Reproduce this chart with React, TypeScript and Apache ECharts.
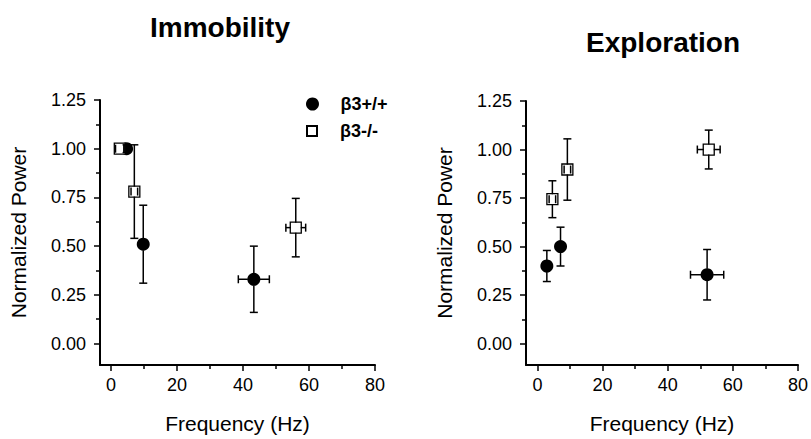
import React, { useEffect, useRef } from "react";
import * as echarts from "echarts";

// ---- data ----
const immobWTX = [4.75, 9.8, 43.3];
const immobWTY = [1.0, 0.51, 0.33];
const immobWTXErr = [0.8, 0, 4.7];
const immobWTYErr = [0.02, 0.2, 0.17];

const immobKOX = [2.7, 7.1, 56.0];
const immobKOY = [1.0, 0.78, 0.595];
const immobKOXErr = [1.3, 1.0, 3.0];
const immobKOYErr = [0, 0.24, 0.15];

const exploWTX = [2.9, 7.1, 52.1];
const exploWTY = [0.4, 0.5, 0.355];
const exploWTXErr = [0, 0, 5.1];
const exploWTYErr = [0.08, 0.1, 0.13];

const exploKOX = [4.6, 9.2, 52.6];
const exploKOY = [0.744, 0.897, 1.0];
const exploKOXErr = [1.0, 1.0, 3.5];
const exploKOYErr = [0.095, 0.158, 0.1];

const xMajorTicks = [0, 20, 40, 60, 80];
const xMinorTicks = [10, 30, 50, 70];
const yMajorTicks = [0, 0.25, 0.5, 0.75, 1.0, 1.25];
const yMinorTicks = [0.125, 0.375, 0.625, 0.875, 1.125];

const titles = ["Immobility", "Exploration"];
const seriesNames = ["β3+/+", "β3-/-"];

const FONT = "Liberation Sans";

function rows(x: number[], y: number[], xe: number[], ye: number[]) {
  return x.map((v, i) => [v, y[i], xe[i], ye[i]]);
}

function makeErrorRender(half: number) {
  return (params: any, api: any) => {
    const x = api.value(0);
    const y = api.value(1);
    const ex = api.value(2);
    const ey = api.value(3);
    const c = api.coord([x, y]);
    const children: any[] = [];
    const style = { stroke: "#000", lineWidth: 1.5 };
    const cap = 4;
    if (ey > 0) {
      const t = api.coord([x, y + ey]);
      const b = api.coord([x, y - ey]);
      if (t[1] < c[1] - half)
        children.push({ type: "line", shape: { x1: c[0], y1: t[1], x2: c[0], y2: c[1] - half }, style });
      if (b[1] > c[1] + half)
        children.push({ type: "line", shape: { x1: c[0], y1: c[1] + half, x2: c[0], y2: b[1] }, style });
      children.push({ type: "line", shape: { x1: c[0] - cap, y1: t[1], x2: c[0] + cap, y2: t[1] }, style });
      children.push({ type: "line", shape: { x1: c[0] - cap, y1: b[1], x2: c[0] + cap, y2: b[1] }, style });
    }
    if (ex > 0) {
      const l = api.coord([x - ex, y]);
      const r = api.coord([x + ex, y]);
      if (l[0] < c[0] - half)
        children.push({ type: "line", shape: { x1: l[0], y1: c[1], x2: c[0] - half, y2: c[1] }, style });
      if (r[0] > c[0] + half)
        children.push({ type: "line", shape: { x1: c[0] + half, y1: c[1], x2: r[0], y2: c[1] }, style });
      children.push({ type: "line", shape: { x1: l[0], y1: c[1] - cap, x2: l[0], y2: c[1] + cap }, style });
      children.push({ type: "line", shape: { x1: r[0], y1: c[1] - cap, x2: r[0], y2: c[1] + cap }, style });
    }
    return { type: "group", children };
  };
}

function xAxes(gridIndex: number, min: number) {
  return [
    {
      type: "value",
      gridIndex,
      min,
      max: 80,
      position: "bottom",
      name: "Frequency (Hz)",
      nameLocation: "middle",
      nameGap: 48,
      nameTextStyle: { fontSize: 21, color: "#000", fontFamily: FONT },
      axisLine: { show: true, onZero: false, lineStyle: { color: "#000", width: 2 } },
      axisTick: { show: true, customValues: xMajorTicks, length: 6, lineStyle: { color: "#000", width: 1.5 } },
      axisLabel: { customValues: xMajorTicks, fontSize: 18, color: "#000", margin: 11, fontFamily: FONT },
      splitLine: { show: false },
    },
    {
      type: "value",
      gridIndex,
      min,
      max: 80,
      position: "bottom",
      offset: 0,
      axisLine: { show: false, onZero: false },
      axisTick: { show: true, customValues: xMinorTicks, length: 4, lineStyle: { color: "#000", width: 1.5 } },
      axisLabel: { show: false },
      splitLine: { show: false },
    },
  ];
}

function yAxes(gridIndex: number) {
  return [
    {
      type: "value",
      gridIndex,
      min: -0.11,
      max: 1.25,
      position: "left",
      name: "Normalized Power",
      nameLocation: "middle",
      nameGap: 71,
      nameTextStyle: { fontSize: 21, color: "#000", fontFamily: FONT },
      axisLine: { show: true, onZero: false, lineStyle: { color: "#000", width: 2 } },
      axisTick: { show: true, customValues: yMajorTicks, length: 6, lineStyle: { color: "#000", width: 1.5 } },
      axisLabel: {
        customValues: yMajorTicks,
        fontSize: 18,
        color: "#000",
        margin: 14,
        fontFamily: FONT,
        formatter: (v: number) => v.toFixed(2),
      },
      splitLine: { show: false },
    },
    {
      type: "value",
      gridIndex,
      min: -0.11,
      max: 1.25,
      position: "left",
      offset: 0,
      axisLine: { show: false, onZero: false },
      axisTick: { show: true, customValues: yMinorTicks, length: 4, lineStyle: { color: "#000", width: 1.5 } },
      axisLabel: { show: false },
      splitLine: { show: false },
    },
  ];
}

function scatterWT(xi: number, yi: number, data: number[][]) {
  return {
    type: "scatter",
    name: seriesNames[0],
    xAxisIndex: xi,
    yAxisIndex: yi,
    symbol: "circle",
    symbolSize: 13,
    itemStyle: { color: "#000", opacity: 1 },
    data: data.map((d) => [d[0], d[1]]),
    z: 2,
  };
}

function scatterKO(xi: number, yi: number, data: number[][]) {
  return {
    type: "scatter",
    name: seriesNames[1],
    xAxisIndex: xi,
    yAxisIndex: yi,
    symbol: "rect",
    symbolSize: 11,
    itemStyle: { color: "#fff", borderColor: "#000", borderWidth: 1.3, opacity: 1 },
    data: data.map((d) => [d[0], d[1]]),
    z: 3,
  };
}

function errSeries(xi: number, yi: number, data: number[][], half: number) {
  return {
    type: "custom",
    xAxisIndex: xi,
    yAxisIndex: yi,
    renderItem: makeErrorRender(half),
    encode: { x: 0, y: 1 },
    data,
    z: 4,
    silent: true,
  };
}

const legendText = { fontSize: 18, fontWeight: "bold", color: "#000", fontFamily: FONT, padding: [0, 0, 0, 16] };

export default function App() {
  const ref = useRef<HTMLDivElement>(null);
  useEffect(() => {
    if (!ref.current) return;
    const chart = echarts.init(ref.current, null, { renderer: "svg" });
    const iWT = rows(immobWTX, immobWTY, immobWTXErr, immobWTYErr);
    const iKO = rows(immobKOX, immobKOY, immobKOXErr, immobKOYErr);
    const eWT = rows(exploWTX, exploWTY, exploWTXErr, exploWTYErr);
    const eKO = rows(exploKOX, exploKOY, exploKOXErr, exploKOYErr);
    chart.setOption({
      animation: false,
      backgroundColor: "#fff",
      textStyle: { fontFamily: FONT, color: "#000" },
      grid: [
        { left: 100, top: 100, width: 275, height: 268, containLabel: false },
        { left: 526, top: 101, width: 274, height: 267, containLabel: false },
      ],
      xAxis: [...xAxes(0, -3.3), ...xAxes(1, -3.5)],
      yAxis: [...yAxes(0), ...yAxes(1)],
      legend: [
        {
          data: [{ name: seriesNames[0], icon: "circle" }],
          orient: "vertical",
          left: 301,
          top: 90,
          itemWidth: 14,
          itemHeight: 13,
          selectedMode: false,
          textStyle: legendText,
        },
        {
          data: [{ name: seriesNames[1], icon: "path://M0 0H10V10H0Z" }],
          orient: "vertical",
          left: 301,
          top: 117,
          itemWidth: 14,
          itemHeight: 10,
          selectedMode: false,
          textStyle: legendText,
        },
      ],
      graphic: [
        {
          type: "text",
          x: 220,
          y: 27,
          style: { text: titles[0], font: `bold 28px "${FONT}"`, fill: "#000", textAlign: "center", textVerticalAlign: "middle" },
        },
        {
          type: "text",
          x: 663,
          y: 42,
          style: { text: titles[1], font: `bold 28px "${FONT}"`, fill: "#000", textAlign: "center", textVerticalAlign: "middle" },
        },
      ],
      series: [
        scatterWT(0, 0, iWT),
        scatterKO(0, 0, iKO),
        errSeries(0, 0, iWT, 6),
        errSeries(0, 0, iKO, 5),
        scatterWT(2, 2, eWT),
        scatterKO(2, 2, eKO),
        errSeries(2, 2, eWT, 6),
        errSeries(2, 2, eKO, 5),
      ],
    });
    return () => chart.dispose();
  }, []);
  return (
    <div
      ref={ref}
      style={{ position: "absolute", left: 0, top: 0, width: 811, height: 439 }}
    />
  );
}
